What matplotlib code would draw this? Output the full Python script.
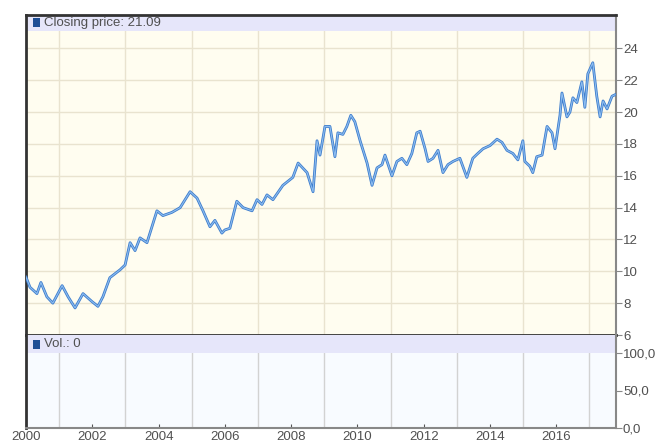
import numpy as np
import matplotlib
matplotlib.use('Agg')
from matplotlib import pyplot as plt
from matplotlib.patches import Rectangle

# closing price (decimal years)
years = [2000.00, 2000.12, 2000.33, 2000.45, 2000.63, 2000.81, 2001.09, 2001.27, 2001.48, 2001.72,
         2001.99, 2002.17, 2002.32, 2002.53, 2002.84, 2002.99, 2003.14, 2003.29, 2003.44, 2003.65,
         2003.80, 2003.95, 2004.13, 2004.40, 2004.65, 2004.95, 2005.16, 2005.34, 2005.55, 2005.70,
         2005.91, 2006.00, 2006.15, 2006.36, 2006.55, 2006.82, 2006.97, 2007.12, 2007.27, 2007.45,
         2007.75, 2008.05, 2008.21, 2008.48, 2008.66, 2008.78, 2008.87, 2009.02, 2009.17, 2009.32,
         2009.41, 2009.56, 2009.68, 2009.80, 2009.92, 2010.08, 2010.29, 2010.44, 2010.59, 2010.74,
         2010.83, 2011.04, 2011.19, 2011.34, 2011.49, 2011.64, 2011.79, 2011.89, 2012.04, 2012.13,
         2012.28, 2012.43, 2012.58, 2012.73, 2012.88, 2013.09, 2013.30, 2013.48, 2013.63, 2013.79,
         2014.00, 2014.21, 2014.36, 2014.51, 2014.69, 2014.84, 2014.99, 2015.05, 2015.20, 2015.29,
         2015.41, 2015.57, 2015.72, 2015.87, 2015.96, 2016.11, 2016.17, 2016.32, 2016.41, 2016.50,
         2016.62, 2016.77, 2016.86, 2016.95, 2017.10, 2017.22, 2017.32, 2017.41, 2017.53, 2017.68,
         2017.77]
close = [9.64, 9.0, 8.6, 9.3, 8.4, 8.0, 9.1, 8.4, 7.7, 8.6,
         8.1, 7.8, 8.4, 9.6, 10.1, 10.4, 11.8, 11.3, 12.1, 11.8,
         12.8, 13.8, 13.5, 13.7, 14.0, 15.0, 14.6, 13.8, 12.8, 13.2,
         12.4, 12.6, 12.7, 14.4, 14.0, 13.8, 14.5, 14.2, 14.8, 14.5,
         15.4, 15.9, 16.8, 16.2, 15.0, 18.2, 17.3, 19.1, 19.1, 17.2,
         18.7, 18.6, 19.1, 19.8, 19.4, 18.2, 16.8, 15.4, 16.5, 16.7,
         17.3, 16.0, 16.9, 17.1, 16.7, 17.4, 18.7, 18.8, 17.7, 16.9,
         17.1, 17.6, 16.2, 16.7, 16.9, 17.1, 15.9, 17.1, 17.4, 17.7,
         17.9, 18.3, 18.1, 17.6, 17.4, 17.0, 18.2, 16.9, 16.6, 16.2,
         17.2, 17.3, 19.1, 18.7, 17.7, 19.8, 21.2, 19.7, 20.0, 20.9,
         20.6, 21.9, 20.3, 22.4, 23.1, 21.0, 19.7, 20.7, 20.2, 21.0,
         21.09]

price_ticks = [6, 8, 10, 12, 14, 16, 18, 20, 22, 24]
vol_ticks = [0, 50, 100]
vol_labels = ['0,0', '50,0', '100,0']
year_ticks = [2000, 2002, 2004, 2006, 2008, 2010, 2012, 2014, 2016]

txt = '#505050'
plt.rcParams['font.family'] = ['Liberation Sans', 'DejaVu Sans']

fig = plt.figure(figsize=(6.56, 4.45), dpi=100)
ax = fig.add_axes([26/656, 1-335/445, 590/656, 320/445])
ax2 = fig.add_axes([26/656, 1-428/445, 590/656, 93/445], sharex=ax)

# top panel
ax.set_facecolor('#fffdf0')
ax.plot(years, close, color='#3d7ccc', lw=2.0, zorder=3)
ax.plot(years, close, color='#8dbdf0', lw=0.8, zorder=4)
ax.set_xlim(2000, 2017.8)
ax.set_ylim(6, 26.1)
ax.set_yticks(price_ticks)
ax.set_xticks(np.arange(2000, 2018), minor=True)
ax.grid(True, which='major', axis='y', color='#e9e3cf', lw=1)
ax.grid(True, which='minor', axis='x', color='#e9e3cf', lw=1)
ax.add_patch(Rectangle((0, 1-16/320), 1, 16/320, transform=ax.transAxes,
                       facecolor='#e6e6fa', edgecolor='none', zorder=2))
ax.add_patch(Rectangle((0.012, 1-12/320), 0.012, 9/320, transform=ax.transAxes,
                       facecolor='#1f4f96', edgecolor='none', zorder=5))
ax.text(0.03, 1-8/320, 'Closing price: 21.09', transform=ax.transAxes,
        va='center', ha='left', fontsize=9.5, color=txt, zorder=5)
ax.yaxis.tick_right()
ax.tick_params(axis='y', which='major', direction='out', length=4, color='#888888',
               labelcolor=txt, labelsize=9.5, pad=1)
ax.tick_params(axis='x', which='both', bottom=False, labelbottom=False)
ax.spines['left'].set(color='#333333', lw=2)
ax.spines['top'].set(color='#333333', lw=2)
ax.spines['bottom'].set(color='#333333', lw=2)
ax.spines['right'].set(color='#888888', lw=1.5)

# volume panel
ax2.set_facecolor('#f8fbff')
ax2.set_ylim(0, 124)
ax2.set_yticks(vol_ticks)
ax2.set_yticklabels(vol_labels)
ax2.set_xticks(year_ticks)
ax2.set_xticks(np.arange(2000, 2018), minor=True)
ax2.grid(True, which='minor', axis='x', color='#d2d2d2', lw=1)
ax2.add_patch(Rectangle((0, 1-18/93), 1, 18/93, transform=ax2.transAxes,
                        facecolor='#e6e6fa', edgecolor='none', zorder=2))
ax2.add_patch(Rectangle((0.012, 1-14/93), 0.012, 9/93, transform=ax2.transAxes,
                        facecolor='#1f4f96', edgecolor='none', zorder=5))
ax2.text(0.03, 1-9/93, 'Vol.: 0', transform=ax2.transAxes,
         va='center', ha='left', fontsize=9.5, color=txt, zorder=5)
ax2.yaxis.tick_right()
ax2.tick_params(axis='y', direction='out', length=4, color='#888888',
                labelcolor=txt, labelsize=9.5, pad=1)
ax2.tick_params(axis='x', which='major', direction='in', length=3, color='#555555',
                labelcolor=txt, labelsize=9.5, pad=2)
ax2.tick_params(axis='x', which='minor', length=0)
ax2.spines['left'].set(color='#333333', lw=2)
ax2.spines['top'].set_visible(False)
ax2.spines['bottom'].set(color='#888888', lw=1.5)
ax2.spines['right'].set(color='#888888', lw=1.5)

fig.savefig('out.png', dpi=100)
